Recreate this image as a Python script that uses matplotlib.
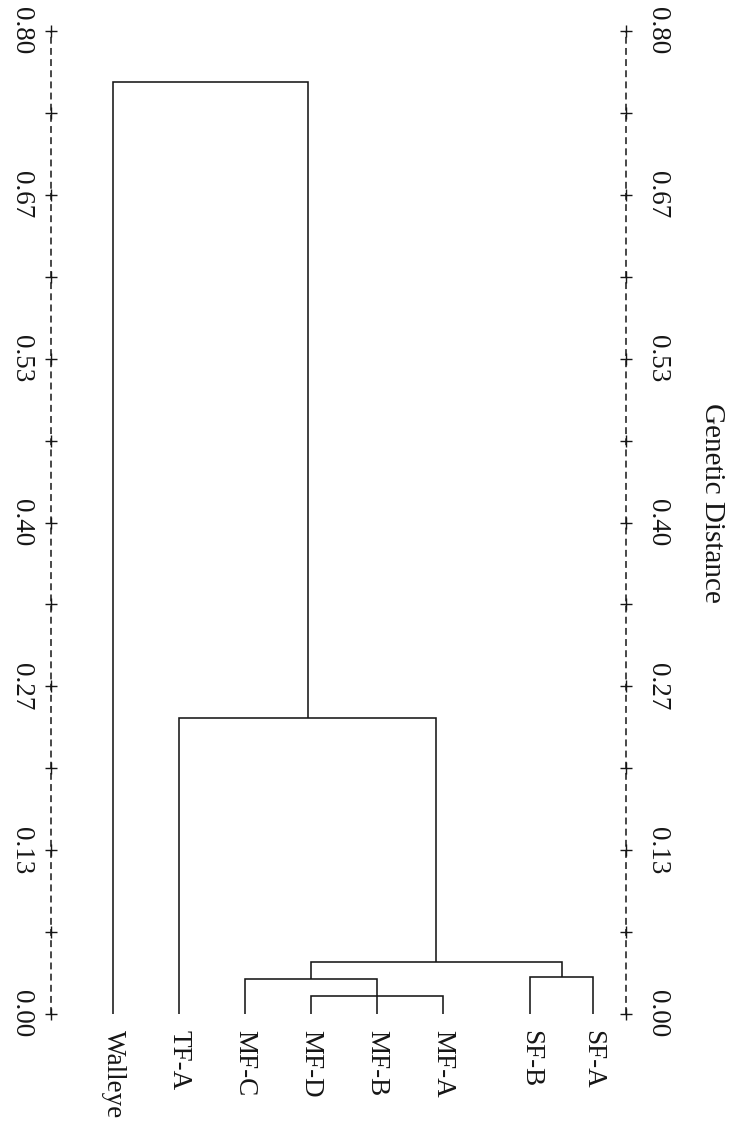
import numpy as np
import matplotlib
matplotlib.use("Agg")
import matplotlib.pyplot as plt

plt.rcParams['font.family'] = ['Liberation Serif', 'DejaVu Serif']

# ---- data ----
leaves = ['Walleye', 'TF-A', 'MF-C', 'MF-D', 'MF-B', 'MF-A', 'SF-B', 'SF-A']
leaf_pos = [0, 1, 2, 3, 4, 5, 6.32, 7.27]          # horizontal slot of each leaf
# merges as drawn: (left child, right child, name, genetic distance)
merges = [
    ('MF-D', 'MF-A', 'c1', 0.0146),
    ('MF-B', 'c1', 'c2', 0.0146),
    ('MF-C', 'c2', 'c3', 0.0285),
    ('SF-B', 'SF-A', 'c4', 0.0301),
    ('c3', 'c4', 'c5', 0.0423),
    ('TF-A', 'c5', 'c6', 0.241),
    ('Walleye', 'c6', 'c7', 0.7585),
]
tick_labels = ['0.00', '0.13', '0.27', '0.40', '0.53', '0.67', '0.80']
dmax = 0.80
axis_title = 'Genetic Distance'

# ---- figure ----
W, H = 734, 1127
fig = plt.figure(figsize=(W / 100, H / 100), dpi=100)
ax = fig.add_axes([51 / W, (H - 1014) / H, 575 / W, 983 / H])
ax.set_xlim(-0.94, 7.77)
ax.set_ylim(0, dmax)
ax.axis('off')

lc = '#161616'
lw = 1.15
pos = {n: p for n, p in zip(leaves, leaf_pos)}
hgt = {n: 0.0 for n in leaves}
for a, b, name, h in merges:
    xa, xb = pos[a], pos[b]
    ax.plot([xa, xa, xb, xb], [hgt[a], h, h, hgt[b]], color=lc, lw=lw,
            solid_capstyle='butt', solid_joinstyle='miter')
    pos[name] = (xa + xb) / 2
    hgt[name] = h

# leaf labels
for n, p in zip(leaves, leaf_pos):
    ax.annotate(n, xy=(p, 0), xytext=(0, -11.5), textcoords='offset points',
                rotation=-90, ha='center', va='top', fontsize=19.5, color=lc)

# dashed axes with + marks
ticks_all = np.linspace(0, dmax, 2 * (len(tick_labels) - 1) + 1)
xl, xr = ax.get_xlim()
for xside in (xl, xr):
    ax.plot([xside, xside], [0, dmax], color=lc, lw=1.1,
            linestyle=(0, (4.5, 2.8)), clip_on=False)
    ax.plot([xside] * len(ticks_all), ticks_all, linestyle='none', marker='+',
            markersize=8, mew=1.0, color=lc, clip_on=False)

major = ticks_all[::2]
for v, lab in zip(major, tick_labels):
    ax.annotate(lab, xy=(xl, v), xytext=(-21.5, 0), textcoords='offset points',
                rotation=-90, ha='center', va='center', fontsize=19.5, color=lc,
                annotation_clip=False)
    ax.annotate(lab, xy=(xr, v), xytext=(22.5, 0), textcoords='offset points',
                rotation=-90, ha='center', va='center', fontsize=19.5, color=lc,
                annotation_clip=False)

fig.text(712 / W, 1 - 503 / H, axis_title, rotation=-90, ha='center', va='center',
         fontsize=21, color=lc)

fig.savefig('out.png', dpi=100, facecolor='white')
